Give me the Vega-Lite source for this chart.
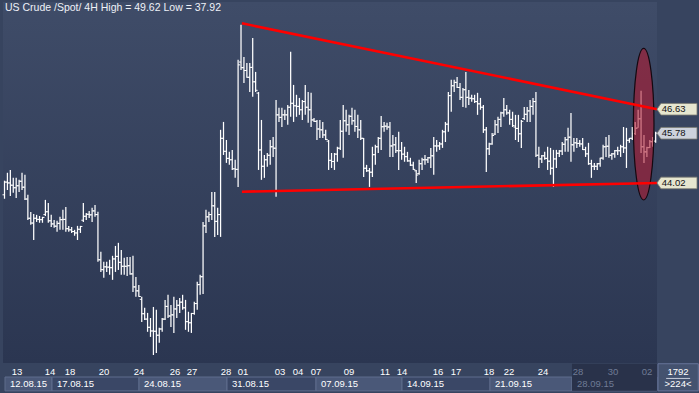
{
"$schema":"https://vega.github.io/schema/vega-lite/v6.json",
"width":654,"height":361,
"autosize":{"type":"none"},
"padding":{"left":3,"top":2,"right":42,"bottom":30},
"background":"#37445f",
"config":{"view":{"fill":{"gradient":"linear","x1":0,"y1":0,"x2":0,"y2":1,"stops":[{"offset":0,"color":"#3f4c68"},{"offset":1,"color":"#2b3651"}]},"stroke":null},"font":"Liberation Sans","text":{"font":"Liberation Sans"},"axis":{"labelFont":"Liberation Sans"}},
"resolve":{"scale":{"color":"independent"}},
"datasets":{
"bars":[
{"i":0,"o":43.6,"h":44.1,"l":43.46,"c":44.05},{"i":1,"o":44.05,"h":44.38,"l":43.77,"c":44.02},{"i":2,"o":44.02,"h":44.48,"l":43.56,"c":43.94},{"i":3,"o":43.94,"h":44.2,"l":43.67,"c":43.85},{"i":4,"o":43.85,"h":44.2,"l":43.49,"c":43.92},{"i":5,"o":43.92,"h":44.13,"l":43.7,"c":44.08},{"i":6,"o":44.08,"h":44.38,"l":43.77,"c":43.87},{"i":7,"o":43.87,"h":44.31,"l":43.42,"c":43.45},{"i":8,"o":43.45,"h":43.6,"l":42.71,"c":42.77},{"i":9,"o":42.77,"h":42.99,"l":42.54,"c":42.6},
{"i":10,"o":42.6,"h":42.92,"l":42.0,"c":42.77},{"i":11,"o":42.77,"h":42.89,"l":42.64,"c":42.73},{"i":12,"o":42.73,"h":42.85,"l":42.61,"c":42.72},{"i":13,"o":42.72,"h":42.82,"l":42.61,"c":42.8},{"i":14,"o":42.9,"h":43.42,"l":42.85,"c":43.0},{"i":15,"o":43.0,"h":43.31,"l":42.61,"c":42.68},{"i":16,"o":42.68,"h":42.89,"l":42.46,"c":42.57},{"i":17,"o":42.57,"h":42.71,"l":42.43,"c":42.49},{"i":18,"o":42.49,"h":42.68,"l":42.29,"c":42.59},{"i":19,"o":42.59,"h":42.82,"l":42.36,"c":42.72},
{"i":20,"o":42.72,"h":43.07,"l":42.36,"c":42.73},{"i":21,"o":42.73,"h":43.17,"l":42.29,"c":42.4},{"i":22,"o":42.4,"h":42.5,"l":42.29,"c":42.36},{"i":23,"o":42.36,"h":42.46,"l":42.25,"c":42.3},{"i":24,"o":42.3,"h":42.36,"l":42.15,"c":42.25},{"i":25,"o":42.25,"h":42.5,"l":42.0,"c":42.38},{"i":26,"o":42.38,"h":42.5,"l":42.25,"c":42.48},{"i":27,"o":42.7,"h":43.31,"l":42.64,"c":42.84},{"i":28,"o":42.84,"h":42.96,"l":42.71,"c":42.91},{"i":29,"o":42.91,"h":43.03,"l":42.78,"c":42.89},
{"i":30,"o":42.89,"h":43.14,"l":42.64,"c":43.03},{"i":31,"o":43.03,"h":43.24,"l":42.82,"c":42.9},{"i":32,"o":42.9,"h":43.0,"l":41.23,"c":41.3},{"i":33,"o":41.3,"h":41.58,"l":40.87,"c":40.95},{"i":34,"o":40.95,"h":41.23,"l":40.66,"c":41.05},{"i":35,"o":41.05,"h":41.23,"l":40.87,"c":41.04},{"i":36,"o":41.04,"h":41.3,"l":40.77,"c":41.02},{"i":37,"o":41.02,"h":41.44,"l":40.59,"c":41.33},{"i":38,"o":41.33,"h":41.79,"l":40.87,"c":41.42},{"i":39,"o":41.42,"h":41.9,"l":40.94,"c":41.21},
{"i":40,"o":41.21,"h":41.65,"l":40.77,"c":41.07},{"i":41,"o":41.07,"h":41.37,"l":40.77,"c":41.07},{"i":42,"o":41.07,"h":41.4,"l":40.73,"c":41.09},{"i":43,"o":41.09,"h":41.4,"l":40.77,"c":40.8},{"i":44,"o":40.8,"h":41.44,"l":40.16,"c":40.34},{"i":45,"o":40.34,"h":40.69,"l":39.99,"c":40.2},{"i":46,"o":40.2,"h":40.41,"l":39.99,"c":40.0},{"i":47,"o":39.9,"h":39.99,"l":39.1,"c":39.39},{"i":48,"o":39.39,"h":39.6,"l":39.17,"c":39.2},{"i":49,"o":39.2,"h":39.42,"l":38.75,"c":38.91},
{"i":50,"o":38.91,"h":39.24,"l":38.57,"c":38.78},{"i":51,"o":38.78,"h":39.63,"l":37.93,"c":38.77},{"i":52,"o":38.77,"h":39.53,"l":38.0,"c":38.63},{"i":53,"o":38.63,"h":38.89,"l":38.36,"c":38.85},{"i":54,"o":38.85,"h":39.24,"l":38.75,"c":39.2},{"i":55,"o":39.2,"h":39.88,"l":39.17,"c":39.65},{"i":56,"o":39.65,"h":40.06,"l":39.24,"c":39.31},{"i":57,"o":39.31,"h":39.7,"l":38.92,"c":39.35},{"i":58,"o":39.35,"h":39.99,"l":38.71,"c":39.56},{"i":59,"o":39.56,"h":39.88,"l":39.24,"c":39.69},
{"i":60,"o":39.69,"h":39.95,"l":39.42,"c":39.8},{"i":61,"o":39.8,"h":40.06,"l":39.53,"c":39.6},{"i":62,"o":39.6,"h":39.88,"l":38.82,"c":39.11},{"i":63,"o":39.11,"h":39.46,"l":38.75,"c":39.07},{"i":64,"o":39.07,"h":39.42,"l":38.71,"c":39.4},{"i":65,"o":39.4,"h":39.81,"l":39.35,"c":39.75},{"i":66,"o":39.75,"h":40.52,"l":39.53,"c":40.42},{"i":67,"o":40.42,"h":40.77,"l":40.06,"c":40.7},{"i":68,"o":40.7,"h":42.64,"l":40.09,"c":42.5},{"i":69,"o":42.5,"h":43.07,"l":42.25,"c":42.82},
{"i":70,"o":42.82,"h":43.0,"l":42.64,"c":42.9},{"i":71,"o":42.9,"h":43.7,"l":42.71,"c":43.21},{"i":72,"o":43.21,"h":43.7,"l":42.11,"c":42.66},{"i":73,"o":42.66,"h":43.14,"l":42.18,"c":42.9},{"i":74,"o":42.9,"h":45.9,"l":42.11,"c":45.6},{"i":75,"o":45.6,"h":46.18,"l":45.01,"c":45.14},{"i":76,"o":45.14,"h":45.54,"l":44.73,"c":44.89},{"i":77,"o":44.89,"h":45.12,"l":44.66,"c":44.84},{"i":78,"o":44.84,"h":45.19,"l":44.48,"c":44.52},{"i":79,"o":44.52,"h":44.84,"l":44.2,"c":44.5},
{"i":80,"o":44.5,"h":48.38,"l":43.88,"c":48.2},{"i":81,"o":48.3,"h":49.62,"l":48.02,"c":48.1},{"i":82,"o":48.1,"h":48.48,"l":47.56,"c":48.0},{"i":83,"o":48.0,"h":48.27,"l":47.74,"c":47.76},{"i":84,"o":47.76,"h":48.27,"l":47.24,"c":48.11},{"i":85,"o":48.11,"h":49.15,"l":47.07,"c":47.6},{"i":86,"o":47.6,"h":47.95,"l":47.24,"c":47.3},{"i":87,"o":47.2,"h":47.24,"l":44.48,"c":45.19},{"i":88,"o":45.19,"h":46.25,"l":44.13,"c":44.61},{"i":89,"o":44.61,"h":45.01,"l":44.2,"c":44.84},
{"i":90,"o":44.84,"h":45.08,"l":44.59,"c":45.0},{"i":91,"o":45.0,"h":45.54,"l":44.66,"c":45.3},{"i":92,"o":45.3,"h":45.65,"l":44.94,"c":45.25},{"i":93,"o":45.25,"h":46.96,"l":43.53,"c":46.43},{"i":94,"o":46.43,"h":46.68,"l":46.18,"c":46.34},{"i":95,"o":46.34,"h":46.68,"l":46.0,"c":46.43},{"i":96,"o":46.43,"h":46.61,"l":46.25,"c":46.43},{"i":97,"o":46.43,"h":46.78,"l":46.08,"c":46.7},{"i":98,"o":46.7,"h":48.66,"l":46.36,"c":46.84},{"i":99,"o":46.84,"h":47.49,"l":46.18,"c":46.75},
{"i":100,"o":46.75,"h":47.14,"l":46.36,"c":46.73},{"i":101,"o":46.73,"h":47.03,"l":46.43,"c":46.61},{"i":102,"o":46.61,"h":46.96,"l":46.25,"c":46.9},{"i":103,"o":46.9,"h":47.49,"l":46.43,"c":46.7},{"i":104,"o":46.7,"h":47.24,"l":46.15,"c":46.61},{"i":105,"o":46.61,"h":47.21,"l":46.0,"c":46.25},{"i":106,"o":46.25,"h":46.32,"l":46.18,"c":46.2},{"i":107,"o":46.2,"h":46.25,"l":45.54,"c":45.93},{"i":108,"o":45.93,"h":46.25,"l":45.61,"c":45.9},{"i":109,"o":45.9,"h":46.18,"l":45.61,"c":45.72},
{"i":110,"o":45.72,"h":45.9,"l":45.54,"c":45.56},{"i":111,"o":45.5,"h":45.54,"l":44.48,"c":44.82},{"i":112,"o":44.82,"h":45.08,"l":44.55,"c":44.78},{"i":113,"o":44.78,"h":45.08,"l":44.48,"c":45.04},{"i":114,"o":45.04,"h":45.3,"l":44.77,"c":45.25},{"i":115,"o":45.25,"h":46.25,"l":45.19,"c":45.85},{"i":116,"o":45.85,"h":46.78,"l":44.91,"c":46.22},{"i":117,"o":46.22,"h":46.61,"l":45.83,"c":46.08},{"i":118,"o":46.08,"h":46.43,"l":45.72,"c":46.38},{"i":119,"o":46.38,"h":46.68,"l":46.08,"c":46.22},
{"i":120,"o":46.22,"h":46.61,"l":45.83,"c":46.02},{"i":121,"o":46.02,"h":46.43,"l":45.61,"c":45.9},{"i":122,"o":45.9,"h":46.25,"l":45.54,"c":45.6},{"i":123,"o":45.6,"h":45.61,"l":44.23,"c":44.54},{"i":124,"o":44.54,"h":44.66,"l":44.41,"c":44.45},{"i":125,"o":44.45,"h":44.55,"l":43.88,"c":44.4},{"i":126,"o":44.4,"h":45.3,"l":44.23,"c":45.02},{"i":127,"o":45.02,"h":45.37,"l":44.66,"c":45.3},{"i":128,"o":45.3,"h":45.65,"l":45.08,"c":45.6},{"i":129,"o":45.6,"h":46.39,"l":45.19,"c":46.01},
{"i":130,"o":46.01,"h":46.18,"l":45.83,"c":46.03},{"i":131,"o":46.03,"h":46.15,"l":45.9,"c":46.0},{"i":132,"o":46.0,"h":46.18,"l":44.94,"c":45.33},{"i":133,"o":45.33,"h":45.72,"l":44.94,"c":45.37},{"i":134,"o":45.37,"h":45.65,"l":45.08,"c":45.16},{"i":135,"o":45.16,"h":45.83,"l":44.48,"c":45.16},{"i":136,"o":45.16,"h":45.47,"l":44.84,"c":45.04},{"i":137,"o":45.04,"h":45.3,"l":44.77,"c":44.95},{"i":138,"o":44.95,"h":45.12,"l":44.77,"c":44.8},{"i":139,"o":44.8,"h":44.91,"l":44.62,"c":44.65},
{"i":140,"o":44.65,"h":44.77,"l":44.48,"c":44.5},{"i":141,"o":44.45,"h":44.48,"l":44.02,"c":44.3},{"i":142,"o":44.35,"h":44.84,"l":44.31,"c":44.7},{"i":143,"o":44.7,"h":44.91,"l":44.48,"c":44.84},{"i":144,"o":44.84,"h":45.01,"l":44.66,"c":44.84},{"i":145,"o":44.84,"h":44.94,"l":44.73,"c":44.91},{"i":146,"o":44.91,"h":45.26,"l":44.55,"c":44.98},{"i":147,"o":44.98,"h":45.65,"l":44.31,"c":45.33},{"i":148,"o":45.33,"h":45.54,"l":45.12,"c":45.33},{"i":149,"o":45.33,"h":45.47,"l":45.19,"c":45.4},
{"i":150,"o":45.4,"h":45.9,"l":45.26,"c":45.83},{"i":151,"o":45.83,"h":46.18,"l":45.47,"c":46.1},{"i":152,"o":46.1,"h":47.24,"l":45.83,"c":47.11},{"i":153,"o":47.11,"h":47.67,"l":46.54,"c":47.46},{"i":154,"o":47.46,"h":47.67,"l":47.24,"c":47.58},{"i":155,"o":47.58,"h":47.77,"l":47.38,"c":47.4},{"i":156,"o":47.4,"h":47.56,"l":46.96,"c":47.05},{"i":157,"o":47.05,"h":47.38,"l":46.71,"c":47.32},{"i":158,"o":47.32,"h":47.95,"l":46.68,"c":47.05},{"i":159,"o":47.05,"h":47.31,"l":46.78,"c":47.02},
{"i":160,"o":47.02,"h":47.14,"l":46.89,"c":47.0},{"i":161,"o":47.0,"h":47.14,"l":46.85,"c":46.9},{"i":162,"o":46.9,"h":47.21,"l":46.43,"c":46.82},{"i":163,"o":46.82,"h":47.03,"l":46.61,"c":46.7},{"i":164,"o":46.7,"h":46.78,"l":45.79,"c":45.9},{"i":165,"o":45.9,"h":46.0,"l":44.41,"c":45.23},{"i":166,"o":45.23,"h":45.44,"l":45.01,"c":45.4},{"i":167,"o":45.4,"h":45.79,"l":45.37,"c":45.7},{"i":168,"o":45.75,"h":46.25,"l":45.72,"c":46.08},{"i":169,"o":46.08,"h":46.36,"l":45.79,"c":46.27},
{"i":170,"o":46.27,"h":46.54,"l":46.0,"c":46.5},{"i":171,"o":46.5,"h":47.03,"l":46.36,"c":46.61},{"i":172,"o":46.61,"h":46.78,"l":46.43,"c":46.5},{"i":173,"o":46.5,"h":46.61,"l":46.08,"c":46.27},{"i":174,"o":46.27,"h":46.54,"l":46.0,"c":46.05},{"i":175,"o":46.0,"h":46.43,"l":45.54,"c":45.95},{"i":176,"o":45.95,"h":46.43,"l":45.47,"c":45.76},{"i":177,"o":45.76,"h":46.25,"l":45.26,"c":46.2},{"i":178,"o":46.3,"h":46.71,"l":46.25,"c":46.45},{"i":179,"o":46.45,"h":46.71,"l":46.18,"c":46.57},
{"i":180,"o":46.57,"h":46.96,"l":46.18,"c":46.73},{"i":181,"o":46.73,"h":47.03,"l":46.43,"c":46.9},{"i":182,"o":46.9,"h":47.24,"l":44.94,"c":45.0},{"i":183,"o":45.0,"h":45.3,"l":44.55,"c":44.87},{"i":184,"o":44.87,"h":45.01,"l":44.73,"c":44.98},{"i":185,"o":44.98,"h":45.12,"l":44.84,"c":44.89},{"i":186,"o":44.89,"h":45.3,"l":44.48,"c":44.79},{"i":187,"o":44.79,"h":45.26,"l":44.31,"c":44.54},{"i":188,"o":44.54,"h":45.19,"l":43.88,"c":44.87},{"i":189,"o":44.87,"h":45.19,"l":44.55,"c":45.07},
{"i":190,"o":45.07,"h":45.19,"l":44.94,"c":45.15},{"i":191,"o":45.15,"h":45.47,"l":45.01,"c":45.39},{"i":192,"o":45.39,"h":45.65,"l":45.12,"c":45.55},{"i":193,"o":45.55,"h":45.97,"l":45.12,"c":45.64},{"i":194,"o":45.64,"h":46.5,"l":44.77,"c":45.37},{"i":195,"o":45.37,"h":45.61,"l":45.12,"c":45.44},{"i":196,"o":45.44,"h":45.61,"l":45.26,"c":45.42},{"i":197,"o":45.42,"h":45.54,"l":45.3,"c":45.4},{"i":198,"o":45.4,"h":45.61,"l":45.19,"c":45.2},{"i":199,"o":45.2,"h":45.3,"l":44.94,"c":45.05},
{"i":200,"o":45.05,"h":45.44,"l":44.66,"c":44.7},{"i":201,"o":44.7,"h":44.84,"l":44.2,"c":44.61},{"i":202,"o":44.61,"h":44.73,"l":44.48,"c":44.61},{"i":203,"o":44.61,"h":44.73,"l":44.48,"c":44.7},{"i":204,"o":44.7,"h":44.91,"l":44.59,"c":44.9},{"i":205,"o":44.9,"h":45.37,"l":44.84,"c":45.3},{"i":206,"o":45.3,"h":45.65,"l":44.94,"c":45.32},{"i":207,"o":45.32,"h":45.72,"l":44.91,"c":45.0},{"i":208,"o":45.0,"h":45.08,"l":44.84,"c":45.05},{"i":209,"o":45.05,"h":45.19,"l":44.91,"c":45.16},
{"i":210,"o":45.16,"h":45.3,"l":45.01,"c":45.16},{"i":211,"o":45.16,"h":45.37,"l":44.94,"c":45.3},{"i":212,"o":45.3,"h":46.0,"l":45.08,"c":45.26},{"i":213,"o":45.26,"h":45.97,"l":44.55,"c":45.53},{"i":214,"o":45.53,"h":45.61,"l":45.44,"c":45.6},{"i":215,"o":45.6,"h":46.0,"l":45.54,"c":45.77},{"i":216,"o":45.77,"h":46.18,"l":45.72,"c":45.95},{"i":217,"o":45.97,"h":46.61,"l":45.97,"c":46.29},{"i":218,"o":46.29,"h":47.28,"l":45.08,"c":45.3},{"i":219,"o":45.3,"h":45.72,"l":44.73,"c":45.12},
{"i":220,"o":45.12,"h":45.3,"l":44.94,"c":45.27},{"i":221,"o":45.27,"h":45.54,"l":45.26,"c":45.48},{"i":222,"o":45.48,"h":45.65,"l":45.3,"c":45.5},{"i":223,"o":45.5,"h":45.83,"l":45.44,"c":45.78}
],
"trend":[{"t":"up","i":81.3,"p":49.67},{"t":"up","i":223.46,"p":46.63},{"t":"low","i":81.3,"p":43.71},{"t":"low","i":223.46,"p":44.02}],
"tags":[{"p":46.63,"k":"line"},{"p":45.78,"k":"last"},{"p":44.02,"k":"line"}],
"days":[{"i":4.28,"t":"13"},{"i":15.58,"t":"14"},{"i":22.43,"t":"18"},{"i":34.08,"t":"20"},{"i":46.06,"t":"24"},{"i":58.39,"t":"26"},{"i":64.21,"t":"27"},{"i":75.86,"t":"28"},{"i":81.68,"t":"01"},{"i":94.35,"t":"03"},{"i":100.51,"t":"04"},{"i":106.68,"t":"07"},{"i":117.98,"t":"09"},{"i":130.31,"t":"11"},{"i":136.13,"t":"14"},{"i":148.46,"t":"16"},{"i":154.62,"t":"17"},{"i":165.92,"t":"18"},{"i":172.77,"t":"22"},{"i":184.42,"t":"24"},{"i":196.4,"t":"28"},{"i":208.39,"t":"30"},{"i":220.03,"t":"02"}],
"weeks":[{"s":0.17,"e":16.27,"w":"12.08.15","k":"a"},{"s":16.27,"e":46.06,"w":"17.08.15","k":"b"},{"s":46.06,"e":76.2,"w":"24.08.15","k":"a"},{"s":76.2,"e":106.68,"w":"31.08.15","k":"b"},{"s":106.68,"e":136.13,"w":"07.09.15","k":"a"},{"s":136.13,"e":166.27,"w":"14.09.15","k":"b"},{"s":166.27,"e":194.35,"w":"21.09.15","k":"a"},{"s":194.35,"e":223.46,"w":"28.09.15","k":"c"}]
},
"layer":[
{"data":{"name":"bars"},"mark":{"type":"rule","color":"#ffffff","strokeWidth":1.25},
 "encoding":{
  "x":{"field":"i","type":"quantitative","scale":{"domain":[-0.514,223.46],"nice":false,"zero":false},
   "axis":{"values":[4.28,15.58,22.43,34.08,46.06,58.39,64.21,75.86,81.68,94.35,100.51,106.68,117.98,130.31,136.13,148.46,154.62,165.92,172.77,184.42,196.4,208.39,220.03],"grid":true,"gridDash":[3,3],"gridColor":"#63729a","gridOpacity":0.85,"labels":false,"ticks":false,"domain":true,"domainColor":"#0d1119","domainWidth":1,"title":null}},
  "y":{"field":"l","type":"quantitative","scale":{"domain":[37.646,50.425],"nice":false,"zero":false},
   "axis":{"orient":"right","values":[38,39,40,41,42,43,44,45,46,47,48,49,50],"format":".2f","grid":true,"gridDash":[3,3],"gridColor":"#63729a","gridOpacity":0.85,"ticks":false,"tickSize":0,"labelPadding":2,"labelColor":"#ffffff","labelFontSize":9.5,"labelFont":"Liberation Sans","domain":true,"domainColor":"#0d1119","title":null}},
  "y2":{"field":"h"}}},
{"data":{"name":"bars"},"mark":{"type":"tick","orient":"horizontal","color":"#ffffff","size":2,"thickness":1,"xOffset":-1,"opacity":1},
 "encoding":{"x":{"field":"i","type":"quantitative","scale":{"domain":[-0.514,223.46],"nice":false,"zero":false},"axis":null},
  "y":{"field":"o","type":"quantitative","scale":{"domain":[37.646,50.425],"nice":false,"zero":false},"axis":null}}},
{"data":{"name":"bars"},"mark":{"type":"tick","orient":"horizontal","color":"#ffffff","size":2,"thickness":1,"xOffset":1,"opacity":1},
 "encoding":{"x":{"field":"i","type":"quantitative","scale":{"domain":[-0.514,223.46],"nice":false,"zero":false},"axis":null},
  "y":{"field":"c","type":"quantitative","scale":{"domain":[37.646,50.425],"nice":false,"zero":false},"axis":null}}},
{"data":{"values":[{}]},"mark":{"type":"point","shape":"M0,-1C0.0751,-1,0.136,-0.5523,0.136,0C0.136,0.5523,0.0751,1,0,1C-0.0751,1,-0.136,0.5523,-0.136,0C-0.136,-0.5523,-0.0751,-1,0,-1Z","size":22983,"filled":true,"fill":"#b41a30","fillOpacity":0.58,"stroke":"#140810","strokeWidth":1.2,"strokeOpacity":1,"opacity":1},
 "encoding":{"x":{"datum":218.9,"type":"quantitative","scale":{"domain":[-0.514,223.46],"nice":false,"zero":false},"axis":null},
  "y":{"datum":46.1,"type":"quantitative","scale":{"domain":[37.646,50.425],"nice":false,"zero":false},"axis":null}}},
{"data":{"name":"trend"},"mark":{"type":"line","color":"#ff0000","strokeWidth":2.6},
 "encoding":{"x":{"field":"i","type":"quantitative","scale":{"domain":[-0.514,223.46],"nice":false,"zero":false},"axis":null},
  "y":{"field":"p","type":"quantitative","scale":{"domain":[37.646,50.425],"nice":false,"zero":false},"axis":null},
  "detail":{"field":"t"}}},
{"data":{"name":"tags"},"mark":{"type":"point","shape":"M-1,0L-0.8,-0.29L1,-0.29L1,0.29L-0.8,0.29Z","size":1600,"filled":true,"opacity":1,"stroke":"#7d7d72","strokeWidth":0.8},
 "encoding":{"x":{"datum":230.3,"type":"quantitative","scale":{"domain":[-0.514,223.46],"nice":false,"zero":false},"axis":null},
  "y":{"field":"p","type":"quantitative","scale":{"domain":[37.646,50.425],"nice":false,"zero":false},"axis":null},
  "color":{"field":"k","type":"nominal","scale":{"domain":["line","last"],"range":["#e6e6cf","#cdd2dc"]},"legend":null}}},
{"data":{"name":"tags"},"mark":{"type":"text","align":"left","baseline":"middle","fontSize":9.5,"color":"#111111"},
 "encoding":{"x":{"datum":225.1,"type":"quantitative","scale":{"domain":[-0.514,223.46],"nice":false,"zero":false},"axis":null},
  "y":{"field":"p","type":"quantitative","scale":{"domain":[37.646,50.425],"nice":false,"zero":false},"axis":null},
  "text":{"field":"p","type":"quantitative","format":".2f"}}},
{"data":{"values":[{}]},"mark":{"type":"text","align":"left","baseline":"top","fontSize":10.5,"color":"#eef1f7","dx":2,"dy":1},
 "encoding":{"x":{"datum":-0.514,"type":"quantitative","scale":{"domain":[-0.514,223.46],"nice":false,"zero":false},"axis":null},
  "y":{"datum":50.425,"type":"quantitative","scale":{"domain":[37.646,50.425],"nice":false,"zero":false},"axis":null},
  "text":{"value":"US Crude /Spot/ 4H High = 49.62  Low = 37.92"}}},
{"data":{"name":"weeks"},"mark":{"type":"rect","stroke":"#5f6d8d","strokeWidth":1},
 "encoding":{"x":{"field":"s","type":"quantitative","scale":{"domain":[-0.514,223.46],"nice":false,"zero":false},"axis":null},
  "x2":{"field":"e"},
  "y":{"datum":37.15,"type":"quantitative","scale":{"domain":[37.646,50.425],"nice":false,"zero":false},"axis":null},
  "y2":{"datum":36.66},
  "color":{"field":"k","type":"nominal","scale":{"domain":["a","b","c"],"range":["#4a5878","#3a4766","#29324a"]},"legend":null}}},
{"data":{"values":[{}]},"mark":{"type":"rect","color":"#29324a"},
 "encoding":{"x":{"datum":194.35,"type":"quantitative","scale":{"domain":[-0.514,223.46],"nice":false,"zero":false},"axis":null},
  "x2":{"datum":223.46},
  "y":{"datum":37.62,"type":"quantitative","scale":{"domain":[37.646,50.425],"nice":false,"zero":false},"axis":null},
  "y2":{"datum":36.66}}},
{"data":{"name":"days"},"mark":{"type":"text","align":"center","baseline":"middle","fontSize":9.5},
 "encoding":{"x":{"field":"i","type":"quantitative","scale":{"domain":[-0.514,223.46],"nice":false,"zero":false},"axis":null},
  "y":{"datum":37.33,"type":"quantitative","scale":{"domain":[37.646,50.425],"nice":false,"zero":false},"axis":null},
  "text":{"field":"t"},
  "color":{"condition":{"test":"datum.i > 195","value":"#6f7b95"},"value":"#ffffff"}}},
{"data":{"name":"weeks"},"mark":{"type":"text","align":"left","baseline":"middle","fontSize":9.5,"dx":5},
 "encoding":{"x":{"field":"s","type":"quantitative","scale":{"domain":[-0.514,223.46],"nice":false,"zero":false},"axis":null},
  "y":{"datum":36.92,"type":"quantitative","scale":{"domain":[37.646,50.425],"nice":false,"zero":false},"axis":null},
  "text":{"field":"w"},
  "color":{"condition":{"test":"datum.s > 190","value":"#6f7b95"},"value":"#ffffff"}}},
{"data":{"values":[{}]},"mark":{"type":"rect","color":"#44526f","stroke":"#67759a","strokeWidth":1},
 "encoding":{"x":{"datum":223.8,"type":"quantitative","scale":{"domain":[-0.514,223.46],"nice":false,"zero":false},"axis":null},
  "x2":{"datum":237.6},
  "y":{"datum":37.62,"type":"quantitative","scale":{"domain":[37.646,50.425],"nice":false,"zero":false},"axis":null},
  "y2":{"datum":36.66}}},
{"data":{"values":[{}]},"mark":{"type":"rule","color":"#c8cedc","strokeWidth":1},
 "encoding":{"x":{"datum":226.6,"type":"quantitative","scale":{"domain":[-0.514,223.46],"nice":false,"zero":false},"axis":null},
  "x2":{"datum":234.8},
  "y":{"datum":37.1,"type":"quantitative","scale":{"domain":[37.646,50.425],"nice":false,"zero":false},"axis":null}}},
{"data":{"values":[{}]},"mark":{"type":"text","align":"center","baseline":"middle","fontSize":9.5,"color":"#ffffff"},
 "encoding":{"x":{"datum":230.65,"type":"quantitative","scale":{"domain":[-0.514,223.46],"nice":false,"zero":false},"axis":null},
  "y":{"datum":37.34,"type":"quantitative","scale":{"domain":[37.646,50.425],"nice":false,"zero":false},"axis":null},
  "text":{"value":"1792"}}},
{"data":{"values":[{}]},"mark":{"type":"text","align":"center","baseline":"middle","fontSize":9.5,"color":"#ffffff"},
 "encoding":{"x":{"datum":230.65,"type":"quantitative","scale":{"domain":[-0.514,223.46],"nice":false,"zero":false},"axis":null},
  "y":{"datum":36.885,"type":"quantitative","scale":{"domain":[37.646,50.425],"nice":false,"zero":false},"axis":null},
  "text":{"value":">224<"}}}
]
}
